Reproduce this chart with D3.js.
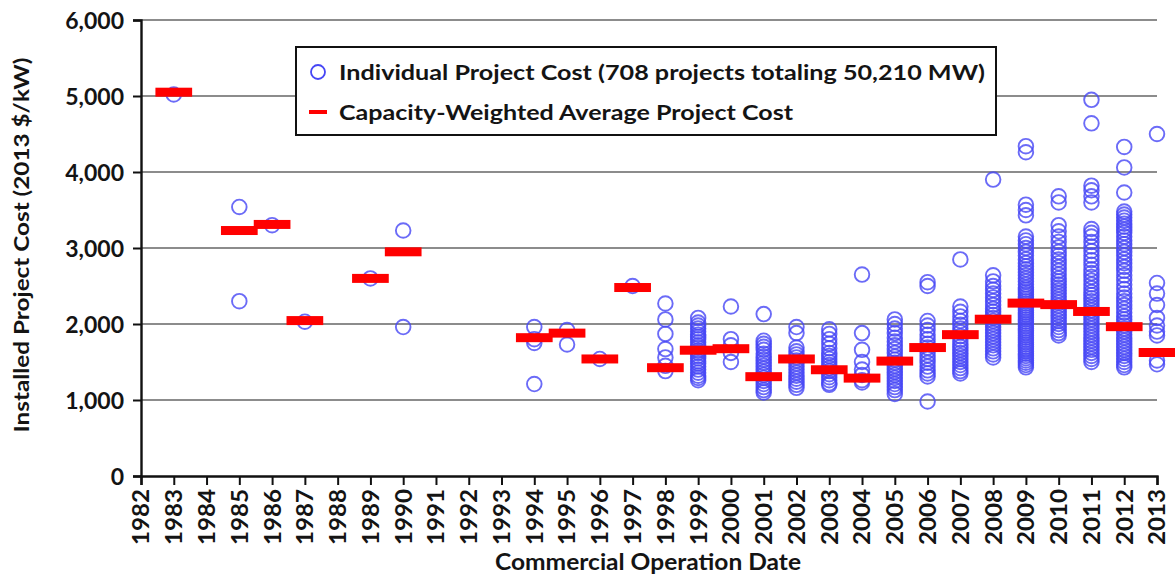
<!DOCTYPE html>
<html>
<head>
<meta charset="utf-8">
<script src="https://cdn.jsdelivr.net/npm/d3@7"></script>
<style>
  html, body { margin: 0; padding: 0; background: #fff; }
  svg { display: block; }
  text { font-family: Lato, "Open Sans", sans-serif; font-weight: bold; fill: #141414; }
</style>
</head>
<body>
<svg id="chart" width="1175" height="575"></svg>
<script>
// ---------------- DATA ----------------
const tickYears = d3.range(1982, 2014);
const yTicks = [0, 1000, 2000, 3000, 4000, 5000, 6000];

// capacity-weighted average project cost by year (2013 $/kW)
const avgYears = [1983, 1985, 1986, 1987, 1989, 1990, 1994, 1995, 1996, 1997, 1998, 1999, 2000,
                  2001, 2002, 2003, 2004, 2005, 2006, 2007, 2008, 2009, 2010, 2011, 2012, 2013];
const avgCost  = [5050, 3230, 3310, 2045, 2600, 2950, 1820, 1880, 1540, 2480, 1425, 1655, 1675,
                  1307, 1540, 1398, 1288, 1512, 1690, 1860, 2063, 2275, 2255, 2165, 1965, 1625];

// individual project costs, one list per year (same order as projectYears)
const projectYears = avgYears;
const projectCosts = [
  [5020],
  [3540, 2300],
  [3300],
  [2030],
  [2600],
  [3230, 1960],
  [1960, 1800, 1750, 1210],
  [1920, 1730],
  [1540],
  [2500],
  [2270, 2060, 1870, 1670, 1560, 1450, 1380],
  [2080, 2020, 1980, 1940, 1900, 1860, 1830, 1800, 1760, 1720, 1690, 1650, 1620, 1580, 1550, 1510, 1480, 1440, 1400, 1360, 1320, 1290, 1260],
  [2230, 1800, 1720, 1620, 1500],
  [2130, 1780, 1740, 1700, 1660, 1610, 1570, 1530, 1490, 1450, 1410, 1370, 1330, 1290, 1250, 1210, 1170, 1130, 1100],
  [1960, 1880, 1690, 1640, 1600, 1560, 1520, 1480, 1440, 1400, 1360, 1320, 1280, 1240, 1200, 1160],
  [1930, 1870, 1800, 1740, 1680, 1620, 1580, 1540, 1500, 1460, 1420, 1380, 1340, 1300, 1260, 1220, 1200],
  [2650, 1880, 1660, 1500, 1400, 1330, 1260, 1230],
  [2060, 2000, 1940, 1880, 1820, 1770, 1720, 1670, 1620, 1570, 1530, 1490, 1450, 1410, 1370, 1330, 1290, 1250, 1210, 1170, 1130, 1080],
  [2550, 2500, 2040, 1980, 1920, 1860, 1800, 1740, 1690, 1640, 1590, 1540, 1490, 1440, 1390, 1350, 1310, 980],
  [2850, 2230, 2160, 2100, 2040, 1990, 1940, 1890, 1840, 1790, 1740, 1700, 1660, 1620, 1580, 1540, 1500, 1460, 1420, 1380, 1350],
  [3900, 2640, 2560, 2500, 2450, 2400, 2350, 2300, 2250, 2200, 2160, 2120, 2080, 2040, 2000, 1960, 1920, 1880, 1840, 1800, 1760, 1720, 1680, 1640, 1600, 1560],
  [4340, 4260, 3570, 3500, 3430, 3150, 3100, 3050, 3000, 2950, 2900, 2850, 2800, 2760, 2720, 2680, 2640, 2600, 2560, 2520, 2480, 2450, 2420, 2390, 2360, 2330, 2300, 2270, 2240, 2210, 2180, 2150, 2120, 2090, 2060, 2030, 2000, 1970, 1940, 1910, 1880, 1850, 1820, 1790, 1760, 1730, 1700, 1670, 1640, 1610, 1580, 1550, 1520, 1490, 1460, 1430],
  [3680, 3600, 3300, 3220, 3150, 3080, 3010, 2950, 2900, 2850, 2800, 2750, 2700, 2650, 2600, 2560, 2520, 2480, 2440, 2400, 2360, 2320, 2280, 2240, 2200, 2160, 2120, 2080, 2040, 2000, 1960, 1920, 1880, 1850],
  [4950, 4640, 3820, 3760, 3680, 3600, 3250, 3200, 3150, 3080, 3020, 2960, 2900, 2840, 2780, 2720, 2670, 2620, 2570, 2520, 2470, 2420, 2380, 2340, 2300, 2260, 2220, 2180, 2140, 2100, 2060, 2020, 1980, 1940, 1900, 1860, 1820, 1780, 1740, 1700, 1660, 1620, 1580, 1540, 1500],
  [4330, 4060, 3730, 3480, 3440, 3400, 3360, 3320, 3280, 3240, 3200, 3150, 3100, 3050, 3000, 2950, 2900, 2850, 2800, 2750, 2700, 2640, 2580, 2520, 2460, 2400, 2350, 2300, 2250, 2200, 2150, 2100, 2060, 2020, 1980, 1940, 1900, 1860, 1820, 1780, 1740, 1700, 1660, 1620, 1580, 1540, 1500, 1460, 1430],
  [4500, 2540, 2400, 2250, 2080, 1980, 1900, 1850, 1520, 1470]
];

const legendLabels = ["Individual Project Cost (708 projects totaling 50,210 MW)",
                      "Capacity-Weighted Average Project Cost"];
const yTitle = "Installed Project Cost (2013 $/kW)";
const xTitle = "Commercial Operation Date";

// ---------------- LAYOUT ----------------
const svg = d3.select("#chart");
const plot = { left: 141, right: 1157, top: 20, bottom: 476 };

const x = d3.scaleLinear().domain([1982, 2013]).range([plot.left, plot.right]);
const y = d3.scaleLinear().domain([0, 6000]).range([plot.bottom, plot.top]);

const pointColor = "#4646f5";

// gridlines
svg.append("g")
  .selectAll("line")
  .data(yTicks.filter(d => d > 0))
  .join("line")
  .attr("x1", plot.left).attr("x2", plot.right)
  .attr("y1", d => y(d)).attr("y2", d => y(d))
  .attr("stroke", "#8c8c8c").attr("stroke-width", 2);

// y axis
const yAxis = svg.append("g")
  .attr("transform", `translate(${plot.left},0)`)
  .call(d3.axisLeft(y).tickValues(yTicks).tickFormat(d3.format(",")).tickSize(8).tickPadding(9));
yAxis.select(".domain").attr("stroke", "#111").attr("stroke-width", 2.4);
yAxis.selectAll(".tick line").attr("stroke", "#111").attr("stroke-width", 2);
yAxis.selectAll(".tick text").style("font-size", "23px").attr("dy", "0.36em");

// x axis
const xAxis = svg.append("g")
  .attr("transform", `translate(0,${plot.bottom})`)
  .call(d3.axisBottom(x).tickValues(tickYears).tickFormat(d3.format("d")).tickSize(9));
xAxis.select(".domain").attr("stroke", "#111").attr("stroke-width", 2.4);
xAxis.selectAll(".tick line").attr("stroke", "#111").attr("stroke-width", 2);
xAxis.selectAll(".tick text")
  .style("font-size", "22px")
  .attr("transform", "rotate(-90)")
  .attr("text-anchor", "end")
  .attr("x", -13).attr("y", 0).attr("dy", "0.36em")
  .attr("textLength", 56).attr("lengthAdjust", "spacingAndGlyphs");

// individual project circles
const pts = projectYears.flatMap((yr, i) => projectCosts[i].map(c => ({ yr, c })));
svg.append("g")
  .selectAll("circle")
  .data(pts)
  .join("circle")
  .attr("cx", d => x(d.yr))
  .attr("cy", d => y(d.c))
  .attr("r", 7.3)
  .attr("fill", "none")
  .attr("stroke", pointColor)
  .attr("stroke-width", 1.9)
  .attr("stroke-opacity", 0.8);

// capacity-weighted average bars
const barHalf = 0.56; // years
const barH = 9;
svg.append("g")
  .selectAll("rect")
  .data(avgYears.map((yr, i) => ({ yr, c: avgCost[i] })))
  .join("rect")
  .attr("x", d => x(d.yr - barHalf))
  .attr("width", d => x(d.yr + barHalf) - x(d.yr - barHalf))
  .attr("y", d => y(d.c) - barH / 2)
  .attr("height", barH)
  .attr("fill", "#ff0000");

// legend
const lg = svg.append("g");
lg.append("rect")
  .attr("x", 296).attr("y", 47).attr("width", 700).attr("height", 88)
  .attr("fill", "#fff").attr("stroke", "#111").attr("stroke-width", 2);
lg.append("circle").attr("cx", 318).attr("cy", 72).attr("r", 7)
  .attr("fill", "none").attr("stroke", pointColor).attr("stroke-width", 1.8);
lg.append("rect").attr("x", 309).attr("y", 110).attr("width", 18).attr("height", 4).attr("fill", "#ff0000");
lg.append("text").attr("x", 339).attr("y", 72).attr("dy", "0.36em")
  .style("font-size", "21px").attr("textLength", 646).attr("lengthAdjust", "spacingAndGlyphs")
  .text(legendLabels[0]);
lg.append("text").attr("x", 339).attr("y", 112).attr("dy", "0.36em")
  .style("font-size", "21px").attr("textLength", 454).attr("lengthAdjust", "spacingAndGlyphs")
  .text(legendLabels[1]);

// axis titles
svg.append("text")
  .attr("transform", `translate(29,245) rotate(-90)`)
  .attr("text-anchor", "middle")
  .style("font-size", "21px")
  .attr("textLength", 375).attr("lengthAdjust", "spacingAndGlyphs")
  .text(yTitle);
svg.append("text")
  .attr("x", 648).attr("y", 570)
  .attr("text-anchor", "middle")
  .style("font-size", "22px")
  .attr("textLength", 306).attr("lengthAdjust", "spacingAndGlyphs")
  .text(xTitle);
</script>
</body>
</html>
